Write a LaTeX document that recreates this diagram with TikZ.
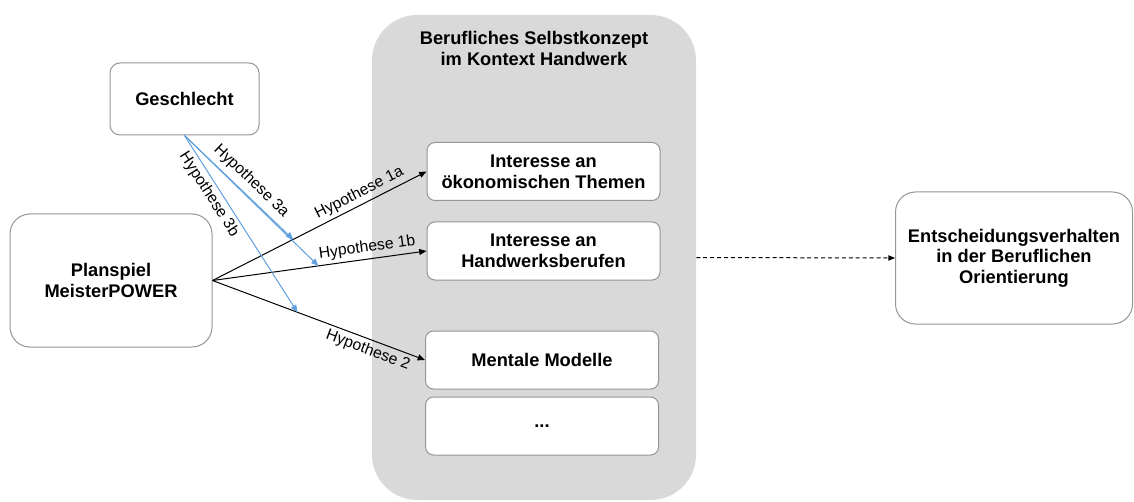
\documentclass[tikz,border=0pt]{standalone}
\usepackage{fontspec}
\setmainfont{Liberation Sans}
\usetikzlibrary{arrows.meta,calc}
\definecolor{boxline}{RGB}{150,150,150}
\definecolor{grayfill}{RGB}{217,217,217}
\definecolor{hypblue}{RGB}{96,160,222}
\tikzset{
  px/.style={x=0.75pt,y=-0.75pt},
  boxtext/.style={font=\fontsize{13.7pt}{15.5pt}\selectfont\bfseries, align=center},
  whitebox/.style={boxtext, draw=boxline, fill=white, line width=0.75pt, inner sep=0pt},
  container/.style={draw=none, fill=grayfill, rounded corners=34pt, inner sep=0pt},
  hyp/.style={-{Triangle[length=5.5pt,width=4.5pt]}, line width=0.75pt, black},
  hypb/.style={-{Triangle[length=5.5pt,width=4.5pt]}, line width=0.75pt, hypblue},
  hlabel/.style={font=\fontsize{11.8pt}{13pt}\selectfont, text=black, sloped, inner sep=2.5pt},
  dashedarrow/.style={-{Triangle[length=5pt,width=4pt]}, line width=0.75pt, dash pattern=on 3pt off 2.2pt}
}
\begin{document}
\begin{tikzpicture}[px]
\useasboundingbox (0,0) rectangle (1134,502);
% container
\node[container, minimum width=324*0.75pt, minimum height=485*0.75pt] (cont) at (534,257.5) {};
\node[boxtext] (title) at (534,48.5) {Berufliches Selbstkonzept\\im Kontext Handwerk};
% left boxes
\node[whitebox, rounded corners=7.5pt, minimum width=149*0.75pt, minimum height=72*0.75pt] (gesch) at (184.5,99) {Geschlecht};
\node[whitebox, rounded corners=15pt, minimum width=202*0.75pt, minimum height=133*0.75pt] (plan) at (111,280.5) {Planspiel\\MeisterPOWER};
% inner boxes
\node[whitebox, rounded corners=6pt, minimum width=233*0.75pt, minimum height=58*0.75pt] (oek) at (543.5,171.5) {Interesse an\\ökonomischen Themen};
\node[whitebox, rounded corners=6pt, minimum width=233*0.75pt, minimum height=58*0.75pt] (hand) at (543.5,251) {Interesse an\\Handwerksberufen};
\node[whitebox, rounded corners=6pt, minimum width=233*0.75pt, minimum height=58*0.75pt] (ment) at (542,360) {Mentale Modelle};
\node[whitebox, rounded corners=6pt, minimum width=233*0.75pt, minimum height=58*0.75pt] (dots) at (542,426) {...};
% right box
\node[whitebox, rounded corners=15pt, minimum width=237*0.75pt, minimum height=132*0.75pt] (ent) at (1014,258) {Entscheidungsverhalten\\in der Beruflichen\\Orientierung};
% black hypotheses
\draw[hyp] (plan.east) -- node[hlabel, pos=0.71, above] {Hypothese 1a} (oek.west);
\draw[hyp] (plan.east) -- node[hlabel, pos=0.73, above] {Hypothese 1b} (hand.west);
\draw[hyp] (plan.east) -- node[hlabel, pos=0.75, below] {Hypothese 2} (ment.west);
% points on black lines
\coordinate (p1) at ($(plan.east)!0.377!(oek.west)$);
\coordinate (p2) at ($(plan.east)!0.495!(hand.west)$);
\coordinate (p3) at ($(plan.east)!0.40!(ment.west)$);
% blue hypotheses
\draw[hypb] (gesch.south) -- node[hlabel, pos=0.53, above, inner sep=4pt] {Hypothese 3a} (p1);
\draw[hypb] (gesch.south) -- (p2);
\draw[hypb] (gesch.south) -- node[hlabel, pos=0.3, below] {Hypothese 3b} (p3);
% dashed
\draw[dashedarrow] (cont.east) -- (ent.west);
\end{tikzpicture}
\end{document}
